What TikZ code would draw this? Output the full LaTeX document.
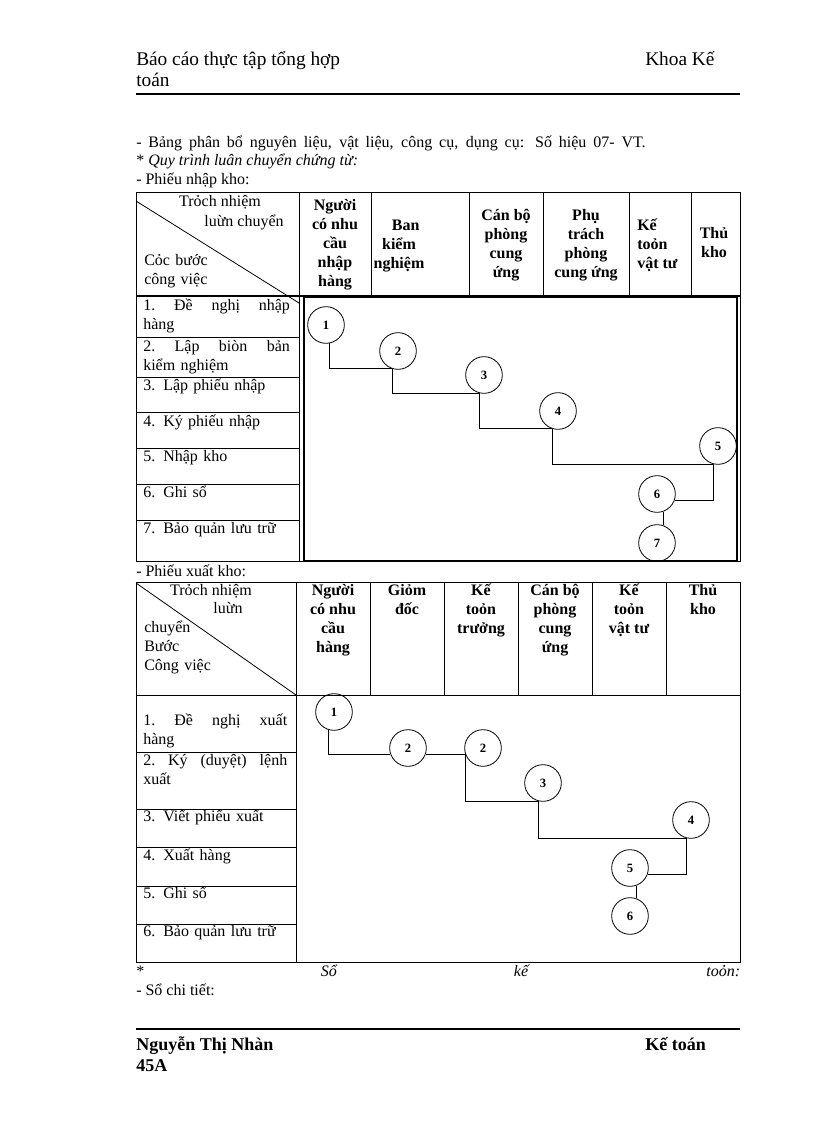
\documentclass[tikz,border=0pt]{standalone}
\usepackage{fontspec}
\setmainfont{Liberation Serif}
\tikzset{
  tabline/.style={line width=0.6pt},
  frameline/.style={line width=1.2pt},
  pagehead/.style={font=\fontsize{14.5}{17}\selectfont, anchor=base west, inner sep=0pt},
  pagefoot/.style={font=\bfseries\fontsize{13.5}{16}\selectfont, anchor=base west, inner sep=0pt},
  txt/.style={font=\fontsize{12}{14.25}\selectfont, anchor=base west, inner sep=0pt},
  colhead/.style={font=\bfseries\fontsize{12}{14.25}\selectfont, align=center, anchor=north, inner sep=0pt},
  rowtext/.style={font=\fontsize{12}{14.25}\selectfont, align=left, anchor=north west, inner sep=0pt, text width=110pt},
  stage/.style={circle, draw, line width=0.6pt, minimum size=27.5pt, inner sep=0pt, font=\bfseries\fontsize{9.5}{11}\selectfont},
  link/.style={line width=0.6pt},
}
\begin{document}
\begin{tikzpicture}[x=0.75pt,y=-0.75pt]
\useasboundingbox (0,0) rectangle (816,1123);
% dau trang
\node[pagehead] (hd1) at (136,66) {Báo cáo thực tập tổng hợp};
\node[pagehead] (hd2) at (136,87) {toán};
\node[pagehead] (hd3) at (645,66) {Khoa Kế};
\draw[line width=2pt] (136,94) -- (740,94);

\node[txt] (ln1) at (136,148) {\makebox[382pt][s]{- Bảng phân bổ nguyên liệu, vật liệu, công cụ, dụng cụ: Số hiệu 07- VT.}};
\node[txt] (ln2) at (136,166) {* \textit{Quy trình luân chuyển chứng từ:}};
\node[txt] (ln3) at (136,185) {- Phiếu nhập kho:};

% phieu nhap kho
\draw[tabline] (136,192) rectangle (740,561);
\draw[tabline] (299,192) -- (299,561);
\foreach \x in {371,469,543,629,691} \draw[tabline] (\x,192) -- (\x,296);
\draw[frameline] (136,296) -- (740,296);
\foreach \y in {337,377,412,448,484,520} \draw[tabline] (136,\y) -- (299,\y);
\draw[frameline] (304,297) rectangle (737,561);
\draw[tabline] (136,201) -- (299,303);

\node[txt, anchor=base] (nh1) at (220,207) {Trỏch nhiệm};
\node[txt, anchor=base] (nh2) at (244,227) {luừn chuyển};
\node[rowtext, text width=80pt] (nh3) at (144,252) {\strut Cỏc bước\\công việc};

\node[colhead] (nc1) at (335,197) {\strut Người\\có nhu\\cầu\\nhập\\hàng};
\node[colhead] (nc2) at (399,217) {\strut\hspace*{10pt}Ban\\kiểm\\nghiệm};
\node[colhead] (nc3) at (506,207) {\strut Cán bộ\\phòng\\cung\\ứng};
\node[colhead] (nc4) at (586,207) {\strut Phụ\\trách\\phòng\\cung ứng};
\node[colhead, align=left, anchor=north west] (nc5) at (637,217) {\strut Kế\\toỏn\\vật tư};
\node[colhead] (nc6) at (714,225) {\strut Thủ\\kho};

\node[rowtext] (nr1) at (143,297) {\strut 1.\hfill Đề\hfill nghị\hfill nhập\\hàng};
\node[rowtext] (nr2) at (143,338) {\strut 2.\hfill Lập\hfill biòn\hfill bản\\kiểm nghiệm};
\node[rowtext] (nr3) at (143,377) {\strut 3. Lập phiếu nhập};
\node[rowtext] (nr4) at (143,413) {\strut 4. Ký phiếu nhập};
\node[rowtext] (nr5) at (143,448) {\strut 5. Nhập kho};
\node[rowtext] (nr6) at (143,484) {\strut 6. Ghi sổ};
\node[rowtext] (nr7) at (143,520) {\strut 7. Bảo quản lưu trữ};

\node[stage] (n1) at (326,325) {1};
\node[stage] (n2) at (398,351) {2};
\node[stage] (n3) at (484,375) {3};
\node[stage] (n4) at (558,411) {4};
\node[stage] (n5) at (718,446) {5};
\node[stage] (n6) at (657,494) {6};
\node[stage] (n7) at (657,543) {7};
\draw[link] (n1.-78) |- (n2.-108);
\draw[link] (n2.-108) |- (n3.-105);
\draw[link] (n3.-105) |- (n4.-108);
\draw[link] (n4.-108) |- (n5.-105);
\draw[link] (n5.-105) |- (n6.-20);
\draw[link] (n6.-70) -- (n7.70);

% phieu xuat kho
\node[txt] (ln4) at (136,576) {- Phiếu xuất kho:};
\draw[tabline] (136,582) rectangle (740,962);
\draw[tabline] (296,582) -- (296,962);
\foreach \x in {370,444,518,592,666} \draw[tabline] (\x,582) -- (\x,695);
\draw[tabline] (136,695) -- (740,695);
\foreach \y in {752,809,847,886,924} \draw[tabline] (136,\y) -- (296,\y);
\draw[tabline] (136,583) -- (296,695);

\node[txt, anchor=base] (xh1) at (211,595) {Trỏch nhiệm};
\node[txt, anchor=base] (xh2) at (228,613) {luừn};
\node[rowtext, text width=80pt] (xh3) at (144,619) {\strut chuyển\\Bước\\Công việc};

\node[colhead] (xc1) at (333,582) {\strut Người\\có nhu\\cầu\\hàng};
\node[colhead] (xc2) at (407,582) {\strut Giỏm\\đốc};
\node[colhead] (xc3) at (481,582) {\strut Kế\\toỏn\\trưởng};
\node[colhead] (xc4) at (555,582) {\strut Cán bộ\\phòng\\cung\\ứng};
\node[colhead] (xc5) at (629,582) {\strut Kế\\toỏn\\vật tư};
\node[colhead] (xc6) at (703,582) {\strut Thủ\\kho};

\node[rowtext, text width=108pt] (xr1) at (143,712) {\strut 1.\hfill Đề\hfill nghị\hfill xuất\\hàng};
\node[rowtext, text width=108pt] (xr2) at (143,752) {\strut 2.\hfill Ký\hfill (duyệt)\hfill lệnh\\xuất};
\node[rowtext, text width=108pt] (xr3) at (143,808) {\strut 3. Viết phiếu xuất};
\node[rowtext, text width=108pt] (xr4) at (143,847) {\strut 4. Xuất hàng};
\node[rowtext, text width=108pt] (xr5) at (143,885) {\strut 5. Ghi sổ};
\node[rowtext, text width=108pt] (xr6) at (143,923) {\strut 6. Bảo quản lưu trữ};

\node[stage] (x1) at (334,712) {1};
\node[stage] (x2) at (408,748) {2};
\node[stage] (x3) at (483,748) {2};
\node[stage] (x4) at (543,783) {3};
\node[stage] (x5) at (691,820) {4};
\node[stage] (x6) at (630,868) {5};
\node[stage] (x7) at (630,916) {6};
\draw[link] (x1.-106) |- (x2.-160);
\draw[link] (x2.-20) -- (x3.-160);
\draw[link] (x3.-160) |- (x4.-105);
\draw[link] (x4.-105) |- (x5.-105);
\draw[link] (x5.-105) |- (x6.-20);
\draw[link] (x6.-70) -- (x7.70);

\node[txt] (ln5) at (136,976) {\makebox[453pt][l]{*\hfill\textit{Sổ}\hfill\textit{kế}\hfill\textit{toỏn:}}};
\node[txt] (ln6) at (136,995) {- Sổ chi tiết:};

% chan trang
\draw[line width=1.6pt] (136,1029) -- (740,1029);
\node[pagefoot] (ft1) at (136,1050) {Nguyễn Thị Nhàn};
\node[pagefoot] (ft2) at (136,1071) {45A};
\node[pagefoot] (ft3) at (645,1050) {Kế toán};
\end{tikzpicture}
\end{document}
